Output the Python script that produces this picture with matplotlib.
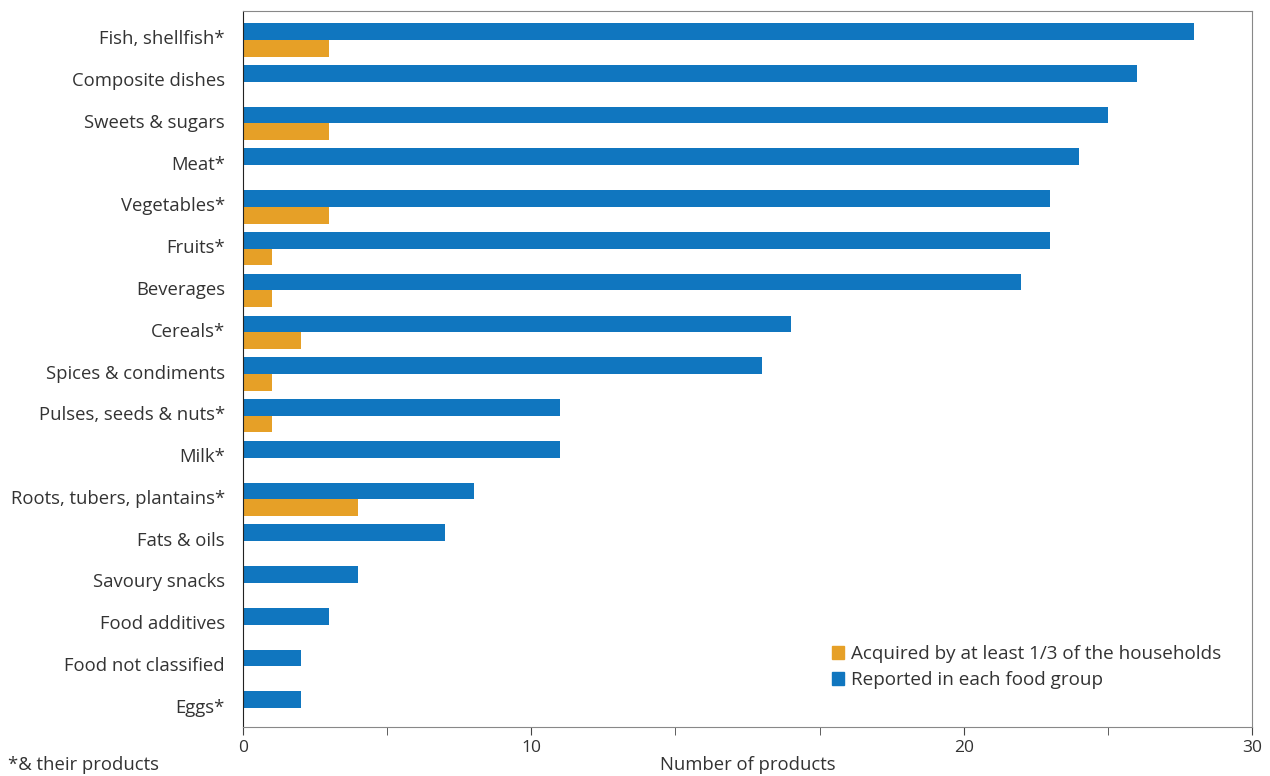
import matplotlib.pyplot as plt
from matplotlib.patches import Patch
from matplotlib.transforms import ScaledTranslation

# food groups, top to bottom
groups = ['Fish, shellfish*', 'Composite dishes', 'Sweets & sugars', 'Meat*',
          'Vegetables*', 'Fruits*', 'Beverages', 'Cereals*', 'Spices & condiments',
          'Pulses, seeds & nuts*', 'Milk*', 'Roots, tubers, plantains*', 'Fats & oils',
          'Savoury snacks', 'Food additives', 'Food not classified', 'Eggs*']
reported = [33, 31, 30, 29, 28, 28, 27, 19, 18, 11, 11, 8, 7, 4, 3, 2, 2]
acquired = [3, 0, 3, 0, 3, 1, 1, 2, 1, 1, 0, 4, 0, 0, 0, 0, 0]

tick_pos = [0, 10, 25, 35]
tick_text = ['0', '10', '20', '30']

blue = '#1076bf'
orange = '#e6a027'
txt = '#333333'

plt.rcParams['font.family'] = ['Open Sans', 'DejaVu Sans']

fig = plt.figure(figsize=(12.7, 7.76), dpi=100)
ax = fig.add_axes([243/1270, 1-727/776, (1252-243)/1270, (727-11)/776])

y = list(range(len(groups)))
h = 0.4
ax.barh([v - h/2 for v in y], reported, height=h, color=blue)
ax.barh([v + h/2 for v in y], acquired, height=h, color=orange)

ax.set_xlim(0, 35)
ax.set_ylim(len(groups) - 1 + 0.45, -0.69)

ax.set_yticks(y)
ax.set_yticklabels(groups, fontsize=13.3, color=txt)
ax.tick_params(axis='y', length=0, pad=13)
# labels sit slightly above the bar boundary
for lab in ax.get_yticklabels():
    lab.set_transform(lab.get_transform() + ScaledTranslation(0, 0.025, fig.dpi_scale_trans))

ax.set_xticks(range(0, 36, 5), minor=True)
ax.set_xticks(tick_pos)
ax.set_xticklabels(tick_text, fontsize=12.5, color=txt)
ax.tick_params(axis='x', which='both', direction='out', length=6, color='#444444', pad=3)
ax.set_xlabel('Number of products', fontsize=13.3, color=txt, va='center')
ax.xaxis.set_label_coords(0.5, (727-765)/716)

for s in ['top', 'right', 'bottom']:
    ax.spines[s].set_color('#888888')
ax.spines['left'].set_color('#222222')

handles = [Patch(color=orange), Patch(color=blue)]
fig.legend(handles, ['Acquired by at least 1/3 of the households', 'Reported in each food group'],
           loc='upper left', bbox_to_anchor=(832/1270, 1-645/776), frameon=False,
           fontsize=13.6, handlelength=0.65, handleheight=0.65, handletextpad=0.35,
           borderpad=0, borderaxespad=0, labelspacing=0.42, labelcolor=txt)

fig.text(8/1270, 1-765/776, '*& their products', fontsize=13.3, color=txt, va='center')

fig.savefig('out.png', dpi=100)
